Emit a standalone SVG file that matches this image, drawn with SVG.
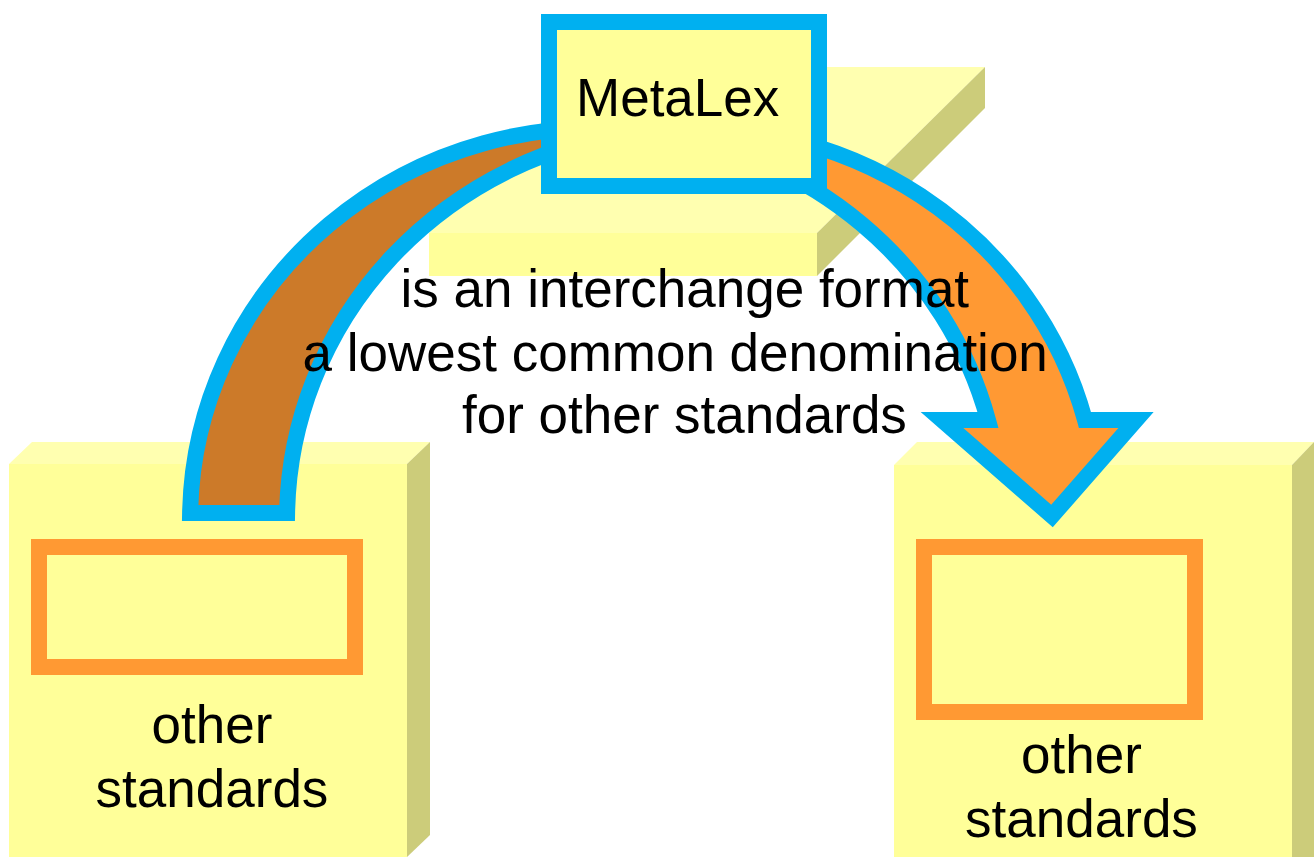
<svg xmlns="http://www.w3.org/2000/svg" width="1314" height="857" viewBox="0 0 1314 857">
  <style>
    .front { fill: #ffff99; }
    .top { fill: #ffffb0; }
    .side { fill: #cccc7a; }
    .inner { fill: none; stroke: #ff9933; stroke-width: 16; }
    .arc { stroke: #00b0f0; stroke-width: 16; stroke-linejoin: miter; stroke-miterlimit: 6; }
    .txt { font-family: "Liberation Sans", Arial, sans-serif; font-size: 53px; fill: #000; }
  </style>
  <rect width="1314" height="857" fill="#ffffff"/>

  <g id="left-standards">
    <polygon class="top" points="9,464 32,442 430,442 407,464"/>
    <polygon class="side" points="407,464 430,442 430,835 407,857"/>
    <rect class="front" x="9" y="464" width="398" height="393"/>
    <rect class="inner" x="39" y="547" width="316" height="120"/>
    <text class="txt" x="212" y="743" text-anchor="middle">other</text>
    <text class="txt" x="212" y="807" text-anchor="middle">standards</text>
  </g>

  <g id="right-standards">
    <polygon class="top" points="894,465 917,442 1314,442 1292,465"/>
    <polygon class="side" points="1292,465 1314,442 1314,857 1292,857"/>
    <rect class="front" x="894" y="465" width="398" height="392"/>
    <rect class="inner" x="924" y="547" width="271" height="165"/>
    <text class="txt" x="1081.5" y="773" text-anchor="middle">other</text>
    <text class="txt" x="1081.5" y="837" text-anchor="middle">standards</text>
  </g>

  <g id="metalex-base">
    <polygon class="top" points="429,233 597,67 985,67 817,233"/>
    <polygon class="side" points="817,233 985,67 985,108 817,276"/>
    <rect class="front" x="429" y="233" width="388" height="43"/>
  </g>

  <g id="connectors">
    <path class="arc" fill="#cc7a29" d="M190.1,513 A405.7,392 0 0 1 644.2,130.8 A405.7,392 0 0 0 287.1,513 Z"/>
    <path class="arc" fill="#ff9933" d="M644.2,130.8 A405.7,392 0 0 1 1085,420 L1136,420 L1052,516 L942,420 L988,420 A405.7,392 0 0 0 644.2,130.8 Z"/>
  </g>

  <g id="metalex">
    <rect x="549" y="22" width="270" height="164" fill="#ffff99" stroke="#00b0f0" stroke-width="16"/>
    <text class="txt" x="576" y="116">MetaLex</text>
  </g>

  <g id="label">
    <text class="txt" x="400.5" y="307">is an interchange format</text>
    <text class="txt" x="302.5" y="370.5">a lowest common denomination</text>
    <text class="txt" x="462" y="433">for other standards</text>
  </g>
</svg>
